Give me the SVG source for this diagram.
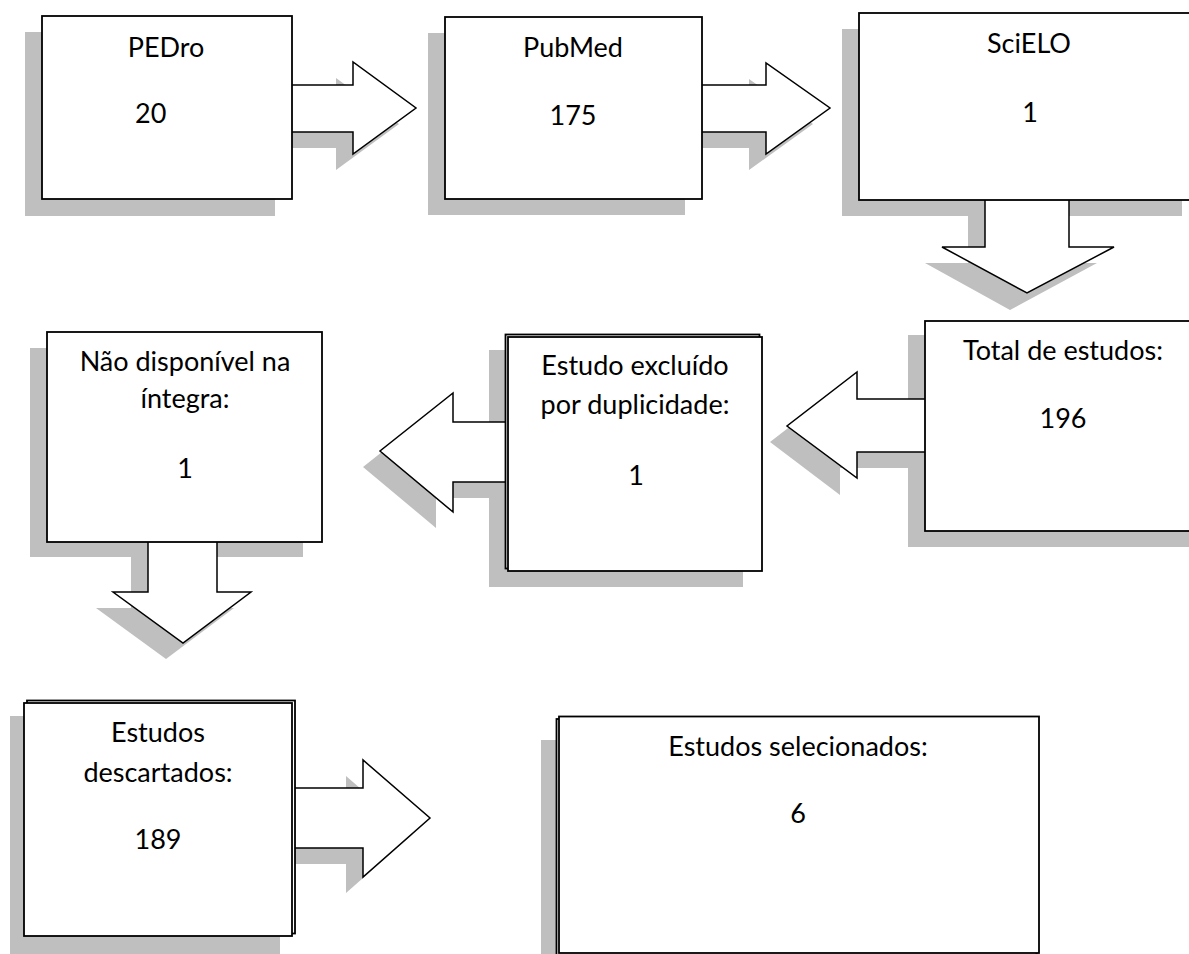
<svg xmlns="http://www.w3.org/2000/svg" width="1189" height="954" viewBox="0 0 1189 954">
<style>
.sh{fill:#bfbfbf;stroke:none}
.bx{fill:#fff;stroke:#000;stroke-width:1.8}
.ar{fill:#fff;stroke:#000;stroke-width:1.5;stroke-linejoin:miter}
text{font-family:Lato,"Liberation Sans",sans-serif;font-size:27px;fill:#000;text-anchor:middle}
</style>
<rect width="1189" height="954" fill="#fff"/>
<g id="shadows">
<rect class="sh" x="25" y="32" width="250" height="184"/>
<rect class="sh" x="428" y="33" width="257" height="182"/>
<rect class="sh" x="842" y="29" width="340" height="187"/>
<rect class="sh" x="908" y="335" width="281" height="212"/>
<rect class="sh" x="489" y="350" width="254" height="237"/>
<rect class="sh" x="30" y="348" width="273" height="209"/>
<rect class="sh" x="10" y="716" width="270" height="238"/>
<rect class="sh" x="541" y="740" width="480" height="214"/>
<polygon class="sh" points="268,101 336,101 336,78 399,124 336,170 336,148 268,148"/>
<polygon class="sh" points="678,101 749,101 749,79 813,124 749,170 749,148 678,148"/>
<polygon class="sh" points="968,200 1052,200 1052,263 1097,263 1010,310 925,263 968,263"/>
<polygon class="sh" points="930,415 840,415 840,388 770,442 840,495 840,468 930,468"/>
<polygon class="sh" points="510,438 436,438 436,409 363,467 436,528 436,498 510,498"/>
<polygon class="sh" points="131,540 200,540 200,608 234,608 166,659 96,608 131,608"/>
<polygon class="sh" points="290,804 346,804 346,776 413,834 346,893 346,864 290,864"/>
</g>
<g id="connectors">
<polygon class="ar" points="285,85 353,85 353,62 416,108 353,154 353,132 285,132"/>
<polygon class="ar" points="695,85 766,85 766,63 830,108 766,154 766,132 695,132"/>
<polygon class="ar" points="985,193 1069,193 1069,247 1114,247 1027,293 942,247 985,247"/>
<polygon class="ar" points="932,399 857,399 857,372 787,426 857,478 857,452 932,452"/>
<polygon class="ar" points="512,422 453,422 453,393 380,451 453,512 453,482 512,482"/>
<polygon class="ar" points="148,535 217,535 217,592 251,592 183,643 113,592 148,592"/>
<polygon class="ar" points="288,788 363,788 363,760 430,818 363,877 363,848 288,848"/>
</g>
<g id="n-pedro">
<rect class="bx" x="42" y="16" width="250" height="183"/>
<text x="166" y="57">PEDro</text>
<text x="135" y="123" style="text-anchor:start">20</text>
</g>
<g id="n-pubmed">
<rect class="bx" x="445" y="17" width="257" height="182"/>
<text x="573" y="57">PubMed</text>
<text x="573" y="125">175</text>
</g>
<g id="n-scielo">
<rect class="bx" x="859" y="13" width="340" height="187"/>
<text x="1029" y="53">SciELO</text>
<text x="1030" y="122">1</text>
</g>
<g id="n-total">
<rect class="bx" x="925" y="321" width="276" height="210"/>
<text x="1063" y="360">Total de estudos:</text>
<text x="1063" y="428">196</text>
</g>
<g id="n-excluido">
<rect class="bx" x="505.5" y="334.5" width="254" height="234"/>
<rect class="bx" x="508" y="337" width="254" height="234"/>
<text x="635" y="375">Estudo excluído</text>
<text x="635" y="414">por duplicidade:</text>
<text x="636" y="485">1</text>
</g>
<g id="n-naodisp">
<rect class="bx" x="47" y="332" width="275" height="210"/>
<text x="185" y="371">Não disponível na</text>
<text x="185" y="408">íntegra:</text>
<text x="185" y="478">1</text>
</g>
<g id="n-descartados">
<rect class="bx" x="27" y="700.5" width="268" height="233"/>
<rect class="bx" x="24" y="703" width="268" height="233"/>
<text x="158" y="742">Estudos</text>
<text x="158" y="782">descartados:</text>
<text x="158" y="849">189</text>
</g>
<g id="n-selecionados">
<rect class="bx" x="556.5" y="719" width="480" height="236"/>
<rect class="bx" x="559" y="716.5" width="480" height="236.5"/>
<text x="798" y="756">Estudos selecionados:</text>
<text x="798" y="823">6</text>
</g>
</svg>
